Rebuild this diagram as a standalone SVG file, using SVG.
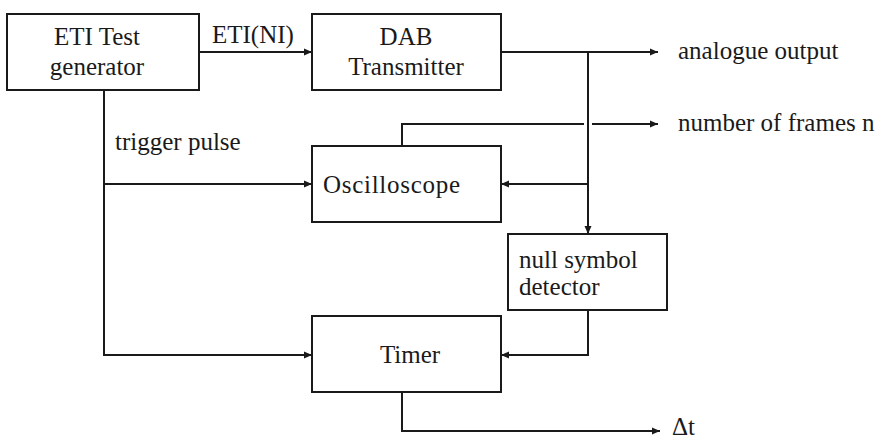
<svg xmlns="http://www.w3.org/2000/svg" width="883" height="439" viewBox="0 0 883 439">
  <style>
    .box { fill: #ffffff; stroke: #1a1a1a; stroke-width: 2; }
    .wire { fill: none; stroke: #1a1a1a; stroke-width: 2; }
    .arrow { marker-end: url(#head); }
    .lbl { font-size: 25px; fill: #1a1a1a; }
    .c { text-anchor: middle; }
  </style>
  <defs>
    <marker id="head" markerWidth="10" markerHeight="10" refX="9" refY="5" orient="auto" markerUnits="userSpaceOnUse">
      <path d="M1,1.5 L9,5 L1,8.5 Z" fill="#1a1a1a"/>
    </marker>
  </defs>
  <rect width="883" height="439" fill="#ffffff"/>

  <g font-family="'Liberation Serif', 'DejaVu Serif', 'Times New Roman', serif">
  <!-- connectors -->
  <g id="connectors">
    <path class="wire arrow" d="M199,52 H312"/>
    <path class="wire arrow" d="M501,52 H658"/>
    <path class="wire arrow" d="M588,52 V234"/>
    <path class="wire arrow" d="M588,184 H501"/>
    <path class="wire" d="M402,146 V124 H584"/>
    <path class="wire arrow" d="M592,124 H658"/>
    <path class="wire arrow" d="M104,90 V184 H312"/>
    <path class="wire arrow" d="M104,184 V355 H312"/>
    <path class="wire arrow" d="M588,310 V355 H501"/>
    <path class="wire arrow" d="M402,392 V431 H660"/>
    <text class="lbl" x="212" y="43">ETI(NI)</text>
    <text class="lbl" x="115" y="150">trigger pulse</text>
    <text class="lbl" x="678" y="59">analogue output</text>
    <text class="lbl" x="678" y="131">number of frames n</text>
    <text class="lbl" x="672" y="435">Δt</text>
  </g>

  <g id="eti-generator">
    <rect class="box" x="7" y="14" width="192" height="76"/>
    <text class="lbl c" x="97" y="45">ETI Test</text>
    <text class="lbl c" x="97" y="75">generator</text>
  </g>

  <g id="dab-transmitter">
    <rect class="box" x="312" y="14" width="189" height="76"/>
    <text class="lbl c" x="406" y="45">DAB</text>
    <text class="lbl c" x="406" y="75">Transmitter</text>
  </g>

  <g id="oscilloscope">
    <rect class="box" x="312" y="146" width="189" height="76"/>
    <text class="lbl" x="323" y="193" textLength="137" lengthAdjust="spacing">Oscilloscope</text>
  </g>

  <g id="null-detector">
    <rect class="box" x="508" y="234" width="159" height="76"/>
    <text class="lbl" x="519" y="268">null symbol</text>
    <text class="lbl" x="519" y="295">detector</text>
  </g>

  <g id="timer">
    <rect class="box" x="312" y="316" width="189" height="76"/>
    <text class="lbl c" x="410" y="363">Timer</text>
  </g>
  </g>
</svg>
